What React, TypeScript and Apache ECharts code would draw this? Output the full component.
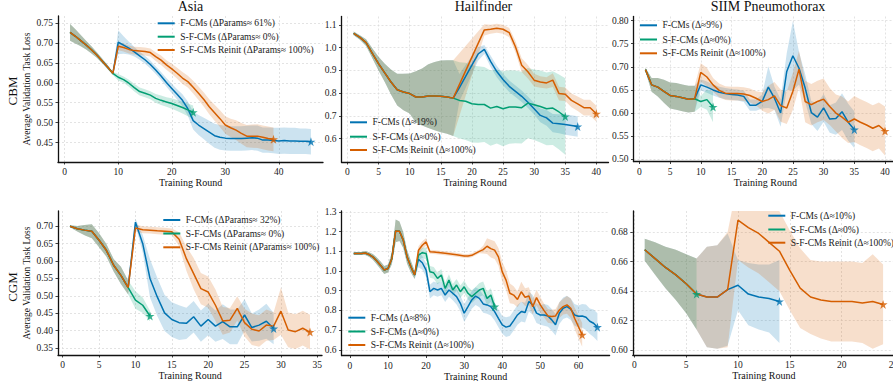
import React, { useEffect, useRef } from "react";
import * as echarts from "echarts";

// ---------------- Asia / CBM ----------------
const asiaCbmSharedRounds = [1, 2, 3, 4, 5, 6, 7, 8, 9];
const asiaCbmSharedLoss = [0.727, 0.717, 0.706, 0.695, 0.683, 0.67, 0.655, 0.64, 0.624];
const asiaCbmSharedStd = [0.021, 0.018, 0.014, 0.011, 0.009, 0.007, 0.006, 0.005, 0.004];
const asiaCbmFRounds = [10, 11, 12, 13, 14, 15, 16, 17, 18, 19, 20, 21, 22, 23, 24, 25, 26, 27, 28, 29, 30, 31, 32, 33, 34, 35, 36, 37, 38, 39, 40, 41, 42, 43, 44, 45, 46];
const asiaCbmFLoss = [0.702, 0.695, 0.687, 0.678, 0.668, 0.658, 0.646, 0.632, 0.617, 0.601, 0.586, 0.571, 0.556, 0.535, 0.505, 0.494, 0.485, 0.476, 0.467, 0.463, 0.461, 0.46, 0.46, 0.46, 0.461, 0.462, 0.461, 0.456, 0.456, 0.455, 0.454, 0.455, 0.454, 0.454, 0.453, 0.453, 0.452];
const asiaCbmFStd = [0.03, 0.022, 0.016, 0.012, 0.01, 0.01, 0.01, 0.01, 0.01, 0.011, 0.012, 0.013, 0.015, 0.018, 0.022, 0.025, 0.027, 0.029, 0.03, 0.031, 0.031, 0.031, 0.031, 0.031, 0.031, 0.031, 0.032, 0.032, 0.032, 0.032, 0.033, 0.033, 0.033, 0.033, 0.032, 0.032, 0.032];
const asiaCbmSRounds = [10, 11, 12, 13, 14, 15, 16, 17, 18, 19, 20, 21, 22, 23, 24];
const asiaCbmSLoss = [0.614, 0.608, 0.599, 0.588, 0.578, 0.574, 0.569, 0.561, 0.556, 0.552, 0.548, 0.543, 0.538, 0.532, 0.526];
const asiaCbmSStd = [0.008, 0.008, 0.009, 0.01, 0.01, 0.01, 0.01, 0.011, 0.012, 0.012, 0.013, 0.014, 0.015, 0.016, 0.017];
const asiaCbmRRounds = [10, 11, 12, 13, 14, 15, 16, 17, 18, 19, 20, 21, 22, 23, 24, 25, 26, 27, 28, 29, 30, 31, 32, 33, 34, 35, 36, 37, 38, 39];
const asiaCbmRLoss = [0.692, 0.689, 0.684, 0.681, 0.68, 0.679, 0.676, 0.666, 0.657, 0.645, 0.635, 0.624, 0.612, 0.603, 0.589, 0.574, 0.558, 0.54, 0.525, 0.51, 0.494, 0.487, 0.481, 0.473, 0.466, 0.466, 0.466, 0.463, 0.46, 0.458];
const asiaCbmRStd = [0.01, 0.01, 0.01, 0.01, 0.01, 0.01, 0.01, 0.011, 0.012, 0.012, 0.013, 0.014, 0.015, 0.015, 0.016, 0.017, 0.018, 0.019, 0.02, 0.021, 0.022, 0.023, 0.025, 0.026, 0.028, 0.029, 0.03, 0.03, 0.03, 0.03];

// ---------------- Hailfinder / CBM ----------------
const hfCbmSharedRounds = [1, 2, 3, 4, 5, 6, 7, 8, 9, 10, 11, 12, 13, 14, 15, 16, 17];
const hfCbmSharedLoss = [1.063, 1.045, 1.022, 0.975, 0.93, 0.889, 0.849, 0.815, 0.805, 0.798, 0.783, 0.783, 0.787, 0.787, 0.786, 0.783, 0.778];
const hfCbmSharedStd = [0.008, 0.01, 0.015, 0.022, 0.03, 0.04, 0.055, 0.07, 0.08, 0.088, 0.113, 0.125, 0.14, 0.15, 0.158, 0.162, 0.167];
const hfCbmFRounds = [18, 19, 20, 21, 22, 23, 24, 25, 26, 27, 28, 29, 30, 31, 32, 33, 34, 35, 36, 37];
const hfCbmFLoss = [0.824, 0.874, 0.923, 0.972, 0.992, 0.94, 0.895, 0.86, 0.83, 0.808, 0.786, 0.76, 0.731, 0.702, 0.691, 0.668, 0.665, 0.662, 0.658, 0.653];
const hfCbmFStd = [0.06, 0.05, 0.04, 0.03, 0.02, 0.025, 0.025, 0.025, 0.025, 0.025, 0.025, 0.025, 0.025, 0.03, 0.035, 0.04, 0.042, 0.045, 0.045, 0.045];
const hfCbmSRounds = [18, 19, 20, 21, 22, 23, 24, 25, 26, 27, 28, 29, 30, 31, 32, 33, 34, 35];
const hfCbmSLoss = [0.768, 0.764, 0.753, 0.75, 0.75, 0.734, 0.741, 0.731, 0.739, 0.739, 0.736, 0.756, 0.749, 0.741, 0.731, 0.734, 0.717, 0.697];
const hfCbmSStd = [0.168, 0.17, 0.17, 0.168, 0.165, 0.165, 0.163, 0.165, 0.162, 0.16, 0.158, 0.155, 0.155, 0.158, 0.16, 0.162, 0.165, 0.168];
const hfCbmRRounds = [22, 23, 24, 25, 26, 27, 28, 29, 30, 31, 32, 33, 34, 35, 36, 37, 38, 39, 40];
const hfCbmRLoss = [1.078, 1.081, 1.085, 1.081, 1.066, 1.004, 0.923, 0.894, 0.857, 0.849, 0.845, 0.857, 0.798, 0.795, 0.768, 0.753, 0.736, 0.736, 0.709];
const hfCbmRStd = [0.025, 0.02, 0.02, 0.02, 0.02, 0.025, 0.03, 0.03, 0.028, 0.025, 0.025, 0.03, 0.03, 0.03, 0.03, 0.032, 0.035, 0.035, 0.035];

// ---------------- SIIM Pneumothorax / CBM ----------------
const siimCbmSharedRounds = [1, 2, 3, 4, 5, 6, 7, 8, 9];
const siimCbmSharedLoss = [0.694, 0.661, 0.656, 0.647, 0.638, 0.636, 0.633, 0.63, 0.631];
const siimCbmSharedStd = [0.004, 0.015, 0.02, 0.025, 0.028, 0.029, 0.029, 0.029, 0.028];
const siimCbmFRounds = [10, 11, 12, 13, 14, 15, 16, 17, 18, 19, 20, 21, 22, 23, 24, 25, 26, 27, 28, 29, 30, 31, 32, 33, 34, 35];
const siimCbmFLoss = [0.661, 0.656, 0.65, 0.645, 0.642, 0.64, 0.639, 0.636, 0.617, 0.617, 0.625, 0.656, 0.632, 0.6, 0.69, 0.724, 0.697, 0.654, 0.601, 0.591, 0.611, 0.587, 0.588, 0.603, 0.58, 0.564];
const siimCbmFStd = [0.012, 0.012, 0.012, 0.012, 0.012, 0.012, 0.012, 0.012, 0.012, 0.012, 0.015, 0.045, 0.025, 0.03, 0.04, 0.075, 0.035, 0.03, 0.025, 0.03, 0.03, 0.03, 0.035, 0.04, 0.04, 0.04];
const siimCbmSRounds = [10, 11, 12];
const siimCbmSLoss = [0.625, 0.629, 0.613];
const siimCbmSStd = [0.012, 0.022, 0.033];
const siimCbmRRounds = [10, 11, 12, 13, 14, 15, 16, 17, 18, 19, 20, 21, 22, 23, 24, 25, 26, 27, 28, 29, 30, 31, 32, 33, 34, 35, 36, 37, 38, 39, 40];
const siimCbmRLoss = [0.688, 0.678, 0.661, 0.649, 0.643, 0.642, 0.642, 0.641, 0.638, 0.632, 0.625, 0.629, 0.637, 0.616, 0.611, 0.647, 0.695, 0.625, 0.618, 0.625, 0.63, 0.614, 0.6, 0.591, 0.58, 0.587, 0.58, 0.574, 0.567, 0.573, 0.561];
const siimCbmRStd = [0.02, 0.02, 0.015, 0.015, 0.015, 0.015, 0.015, 0.015, 0.015, 0.015, 0.02, 0.03, 0.03, 0.035, 0.035, 0.04, 0.04, 0.045, 0.045, 0.045, 0.045, 0.04, 0.04, 0.045, 0.045, 0.05, 0.05, 0.05, 0.05, 0.05, 0.053];

// ---------------- Asia / CGM ----------------
const asiaCgmSharedRounds = [1, 2, 3, 4, 5, 6, 7, 8, 9];
const asiaCgmSharedLoss = [0.7, 0.693, 0.689, 0.686, 0.66, 0.631, 0.588, 0.559, 0.524];
const asiaCgmSharedStd = [0.003, 0.008, 0.015, 0.02, 0.02, 0.018, 0.018, 0.025, 0.02];
const asiaCgmFRounds = [10, 11, 12, 13, 14, 15, 16, 17, 18, 19, 20, 21, 22, 23, 24, 25, 26, 27, 28, 29];
const asiaCgmFLoss = [0.712, 0.65, 0.55, 0.497, 0.451, 0.432, 0.423, 0.421, 0.44, 0.413, 0.432, 0.413, 0.426, 0.411, 0.411, 0.445, 0.409, 0.416, 0.427, 0.406];
const asiaCgmFStd = [0.01, 0.025, 0.055, 0.055, 0.052, 0.05, 0.05, 0.045, 0.045, 0.045, 0.045, 0.045, 0.05, 0.05, 0.05, 0.045, 0.04, 0.045, 0.05, 0.045];
const asiaCgmSRounds = [10, 11, 12];
const asiaCgmSLoss = [0.488, 0.473, 0.442];
const asiaCgmSStd = [0.025, 0.022, 0.015];
const asiaCgmRRounds = [10, 11, 12, 13, 14, 15, 16, 17, 18, 19, 20, 21, 22, 23, 24, 25, 26, 27, 28, 29, 30, 31, 32, 33, 34];
const asiaCgmRLoss = [0.695, 0.69, 0.689, 0.687, 0.686, 0.684, 0.663, 0.607, 0.564, 0.521, 0.511, 0.473, 0.428, 0.43, 0.464, 0.423, 0.404, 0.399, 0.416, 0.413, 0.456, 0.402, 0.397, 0.407, 0.396];
const asiaCgmRStd = [0.01, 0.01, 0.01, 0.01, 0.01, 0.01, 0.02, 0.035, 0.045, 0.045, 0.045, 0.045, 0.04, 0.035, 0.035, 0.04, 0.045, 0.045, 0.045, 0.04, 0.068, 0.05, 0.05, 0.05, 0.05];

// ---------------- Hailfinder / CGM ----------------
const hfCgmSharedRounds = [1, 2, 3, 4, 5, 6, 7, 8, 9, 10, 11, 12, 13, 14, 15, 16, 17];
const hfCgmSharedLoss = [1.089, 1.089, 1.089, 1.092, 1.084, 1.072, 1.052, 1.03, 1.005, 1.013, 1.064, 1.204, 1.202, 1.157, 1.072, 1.022, 0.98];
const hfCgmSharedStd = [0.008, 0.008, 0.008, 0.01, 0.012, 0.015, 0.018, 0.02, 0.02, 0.02, 0.03, 0.058, 0.05, 0.04, 0.035, 0.03, 0.02];
const hfCgmFRounds = [18, 19, 20, 21, 22, 23, 24, 25, 26, 27, 28, 29, 30, 31, 32, 33, 34, 35, 36, 37, 38, 39, 40, 41, 42, 43, 44, 45, 46, 47, 48, 49, 50, 51, 52, 53, 54, 55, 56, 57, 58, 59, 60, 61, 62, 63, 64, 65];
const hfCgmFLoss = [1.059, 1.042, 1.005, 0.895, 0.912, 0.904, 0.912, 0.878, 0.904, 0.887, 0.87, 0.836, 0.786, 0.819, 0.853, 0.873, 0.861, 0.833, 0.828, 0.819, 0.794, 0.76, 0.727, 0.715, 0.721, 0.748, 0.777, 0.794, 0.789, 0.845, 0.828, 0.786, 0.777, 0.777, 0.772, 0.752, 0.727, 0.786, 0.811, 0.819, 0.806, 0.777, 0.77, 0.772, 0.765, 0.745, 0.735, 0.715];
const hfCgmFStd = [0.04, 0.035, 0.035, 0.035, 0.035, 0.035, 0.035, 0.035, 0.035, 0.035, 0.04, 0.04, 0.045, 0.045, 0.045, 0.045, 0.045, 0.045, 0.045, 0.045, 0.045, 0.045, 0.045, 0.05, 0.05, 0.05, 0.05, 0.05, 0.05, 0.05, 0.05, 0.05, 0.05, 0.055, 0.055, 0.055, 0.055, 0.055, 0.055, 0.055, 0.055, 0.055, 0.055, 0.06, 0.065, 0.065, 0.07, 0.07];
const hfCgmSRounds = [18, 19, 20, 21, 22, 23, 24, 25, 26, 27, 28, 29, 30, 31, 32, 33, 34, 35, 36, 37, 38];
const hfCgmSLoss = [1.081, 1.093, 1.089, 0.996, 0.991, 0.963, 0.98, 0.912, 0.954, 0.904, 0.929, 0.895, 0.92, 0.887, 0.87, 0.887, 0.904, 0.912, 0.861, 0.878, 0.819];
const hfCgmSStd = [0.025, 0.025, 0.03, 0.03, 0.03, 0.03, 0.03, 0.03, 0.03, 0.03, 0.03, 0.032, 0.032, 0.032, 0.032, 0.032, 0.035, 0.035, 0.035, 0.035, 0.035];
const hfCgmRRounds = [18, 19, 20, 21, 22, 25, 28, 30, 31, 32, 33, 34, 35, 36, 37, 38, 39, 40, 41, 42, 43, 44, 45, 46, 47, 48, 49, 50, 51, 52, 53, 54, 55, 56, 57, 58, 59, 60, 61];
const hfCgmRLoss = [1.106, 1.131, 1.148, 1.098, 1.097, 1.09, 1.083, 1.077, 1.076, 1.08, 1.09, 1.1, 1.109, 1.126, 1.114, 1.106, 1.072, 0.996, 0.954, 0.887, 0.878, 0.856, 0.895, 0.867, 0.873, 0.819, 0.865, 0.828, 0.799, 0.772, 0.769, 0.772, 0.802, 0.819, 0.828, 0.811, 0.76, 0.718, 0.676];
const hfCgmRStd = [0.02, 0.02, 0.02, 0.01, 0.01, 0.01, 0.01, 0.01, 0.01, 0.01, 0.01, 0.01, 0.02, 0.04, 0.045, 0.045, 0.045, 0.05, 0.05, 0.05, 0.045, 0.04, 0.05, 0.045, 0.045, 0.04, 0.04, 0.04, 0.035, 0.035, 0.035, 0.035, 0.04, 0.04, 0.045, 0.05, 0.055, 0.06, 0.06];

// ---------------- SIIM Pneumothorax / CGM ----------------
const siimCgmSharedRounds = [1, 2, 3, 4, 5, 6];
const siimCgmSharedLoss = [0.668, 0.662, 0.656, 0.651, 0.645, 0.638];
const siimCgmSharedStd = [0.0075, 0.011, 0.014, 0.017, 0.02, 0.024];
const siimCgmFRounds = [7, 8, 9, 10, 11, 12, 13, 14];
const siimCgmFLoss = [0.636, 0.636, 0.641, 0.644, 0.638, 0.636, 0.635, 0.633];
const siimCgmFStd = [0.034, 0.035, 0.038, 0.017, 0.021, 0.022, 0.023, 0.028];
const siimCgmSRounds: number[] = [];
const siimCgmSLoss: number[] = [];
const siimCgmSStd: number[] = [];
const siimCgmRRounds = [7, 8, 9, 10, 11, 12, 13, 14, 15, 16, 17, 18, 19, 20, 21, 22, 23, 24];
const siimCgmRLoss = [0.636, 0.636, 0.641, 0.688, 0.683, 0.679, 0.673, 0.667, 0.654, 0.642, 0.636, 0.634, 0.633, 0.633, 0.633, 0.632, 0.633, 0.631];
const siimCgmRStd = [0.034, 0.035, 0.039, 0.027, 0.027, 0.027, 0.027, 0.027, 0.027, 0.027, 0.025, 0.026, 0.027, 0.027, 0.027, 0.027, 0.032, 0.027];

// ---------------- tick labels & texts ----------------
const asiaCbmXTicks = [0, 10, 20, 30, 40];
const asiaCbmYTicks = [0.45, 0.5, 0.55, 0.6, 0.65, 0.7, 0.75];
const hfCbmXTicks = [0, 5, 10, 15, 20, 25, 30, 35, 40];
const hfCbmYTicks = [0.6, 0.7, 0.8, 0.9, 1.0, 1.1];
const siimCbmXTicks = [0, 5, 10, 15, 20, 25, 30, 35, 40];
const siimCbmYTicks = [0.5, 0.55, 0.6, 0.65, 0.7, 0.75, 0.8];
const asiaCgmXTicks = [0, 5, 10, 15, 20, 25, 30, 35];
const asiaCgmYTicks = [0.35, 0.4, 0.45, 0.5, 0.55, 0.6, 0.65, 0.7];
const hfCgmXTicks = [0, 10, 20, 30, 40, 50, 60];
const hfCgmYTicks = [0.6, 0.7, 0.8, 0.9, 1.0, 1.1, 1.2, 1.3];
const siimCgmXTicks = [0, 5, 10, 15, 20, 25];
const siimCgmYTicks = [0.6, 0.62, 0.64, 0.66, 0.68];

const datasetTitles = ["Asia", "Hailfinder", "SIIM Pneumothorax"];
const rowLabels = ["CBM", "CGM"];
const asiaCbmLegend = ["F-CMs (ΔParams≈ 61%)", "S-F-CMs (ΔParams≈ 0%)", "S-F-CMs Reinit (ΔParams≈ 100%)"];
const hfCbmLegend = ["F-CMs (Δ≈19%)", "S-F-CMs (Δ≈0%)", "S-F-CMs Reinit (Δ≈100%)"];
const siimCbmLegend = ["F-CMs (Δ≈9%)", "S-F-CMs (Δ≈0%)", "S-F-CMs Reinit (Δ≈100%)"];
const asiaCgmLegend = ["F-CMs (ΔParams≈ 32%)", "S-F-CMs (ΔParams≈ 0%)", "S-F-CMs Reinit (ΔParams≈ 100%)"];
const hfCgmLegend = ["F-CMs (Δ≈8%)", "S-F-CMs (Δ≈0%)", "S-F-CMs Reinit (Δ≈100%)"];
const siimCgmLegend = ["F-CMs (Δ≈10%)", "S-F-CMs (Δ≈0%)", "S-F-CMs Reinit (Δ≈100%)"];

// ---------------- styling ----------------
const FONT = "'Liberation Serif', 'Times New Roman', serif";
const COLORS = ["#0173B2", "#029E73", "#D55E00"];
const BANDS = ["rgba(1,115,178,0.2)", "rgba(2,158,115,0.2)", "rgba(213,94,0,0.2)"];
const STAR = "path://M50,0 L61.8,36.2 L100,36.2 L69.1,58.8 L80.9,95 L50,72.6 L19.1,95 L30.9,58.8 L0,36.2 L38.2,36.2 Z";

type Run = { rounds: number[]; loss: number[]; std: number[] };
const run = (rounds: number[], loss: number[], std: number[]): Run => ({ rounds, loss, std });
const join = (a: Run, b: Run): Run => ({
  rounds: [...a.rounds, ...b.rounds],
  loss: [...a.loss, ...b.loss],
  std: [...a.std, ...b.std],
});

const panels = [
  {
    grid: { left: 58, top: 16, width: 265, height: 146 },
    x: [-1.25, 48.25], y: [0.401, 0.768], xt: asiaCbmXTicks, yt: asiaCbmYTicks, yd: 2, yName: true,
    shared: run(asiaCbmSharedRounds, asiaCbmSharedLoss, asiaCbmSharedStd),
    parts: [run(asiaCbmFRounds, asiaCbmFLoss, asiaCbmFStd), run(asiaCbmSRounds, asiaCbmSLoss, asiaCbmSStd), run(asiaCbmRRounds, asiaCbmRLoss, asiaCbmRStd)],
    legend: asiaCbmLegend, lx: 157.7, rows: [23.3, 36.7, 50],
  },
  {
    grid: { left: 341.5, top: 16.5, width: 267, height: 145.5 },
    x: [-0.95, 41.95], y: [0.497, 1.137], xt: hfCbmXTicks, yt: hfCbmYTicks, yd: 1, yName: false,
    shared: run(hfCbmSharedRounds, hfCbmSharedLoss, hfCbmSharedStd),
    parts: [run(hfCbmFRounds, hfCbmFLoss, hfCbmFStd), run(hfCbmSRounds, hfCbmSLoss, hfCbmSStd), run(hfCbmRRounds, hfCbmRLoss, hfCbmRStd)],
    legend: hfCbmLegend, lx: 350, rows: [122.3, 136.7, 150],
  },
  {
    grid: { left: 633.5, top: 16.5, width: 263.5, height: 145 },
    x: [-0.95, 41.95], y: [0.495, 0.809], xt: siimCbmXTicks, yt: siimCbmYTicks, yd: 2, yName: false,
    shared: run(siimCbmSharedRounds, siimCbmSharedLoss, siimCbmSharedStd),
    parts: [run(siimCbmFRounds, siimCbmFLoss, siimCbmFStd), run(siimCbmSRounds, siimCbmSLoss, siimCbmSStd), run(siimCbmRRounds, siimCbmRLoss, siimCbmRStd)],
    legend: siimCbmLegend, lx: 640, rows: [25.3, 39.5, 53.3],
  },
  {
    grid: { left: 58, top: 211, width: 264, height: 144 },
    x: [-0.65, 35.65], y: [0.33, 0.744], xt: asiaCgmXTicks, yt: asiaCgmYTicks, yd: 2, yName: true,
    shared: run(asiaCgmSharedRounds, asiaCgmSharedLoss, asiaCgmSharedStd),
    parts: [run(asiaCgmFRounds, asiaCgmFLoss, asiaCgmFStd), run(asiaCgmSRounds, asiaCgmSLoss, asiaCgmSStd), run(asiaCgmRRounds, asiaCgmRLoss, asiaCgmRStd)],
    legend: asiaCgmLegend, lx: 163.3, rows: [220, 233.5, 247.3],
  },
  {
    grid: { left: 341.6, top: 211, width: 268, height: 144.5 },
    x: [-2.2, 68.2], y: [0.571, 1.305], xt: hfCgmXTicks, yt: hfCgmYTicks, yd: 1, yName: false,
    shared: run(hfCgmSharedRounds, hfCgmSharedLoss, hfCgmSharedStd),
    parts: [run(hfCgmFRounds, hfCgmFLoss, hfCgmFStd), run(hfCgmSRounds, hfCgmSLoss, hfCgmSStd), run(hfCgmRRounds, hfCgmRLoss, hfCgmRStd)],
    legend: hfCgmLegend, lx: 348.3, rows: [317.7, 331.5, 345],
  },
  {
    grid: { left: 632.8, top: 211, width: 262.2, height: 144 },
    x: [-0.15, 25.15], y: [0.5968, 0.6942], xt: siimCgmXTicks, yt: siimCgmYTicks, yd: 2, yName: false,
    shared: run(siimCgmSharedRounds, siimCgmSharedLoss, siimCgmSharedStd),
    parts: [run(siimCgmFRounds, siimCgmFLoss, siimCgmFStd), run(siimCgmSRounds, siimCgmSLoss, siimCgmSStd), run(siimCgmRRounds, siimCgmRLoss, siimCgmRStd)],
    legend: siimCgmLegend, lx: 768.3, rows: [215.7, 229.5, 242.7],
  },
];

const titleCenters = [190.5, 483.5, 768];
const rowLabelCenters = [91, 287];

function buildOption() {
  const grids: any[] = [];
  const xAxes: any[] = [];
  const yAxes: any[] = [];
  const series: any[] = [];
  const graphics: any[] = [];

  panels.forEach((p, gi) => {
    grids.push({ ...p.grid, outerBoundsMode: "none", containLabel: false });
    xAxes.push({
      gridIndex: gi, type: "value", min: p.x[0], max: p.x[1],
      axisLine: { show: true, onZero: false, lineStyle: { color: "#111", width: 1.3 } },
      axisTick: { show: true, length: 2.5, customValues: p.xt, lineStyle: { color: "#111", width: 0.8 } },
      axisLabel: { customValues: p.xt, margin: 5, fontFamily: FONT, fontSize: 9.5, color: "#222", formatter: (v: number) => String(Math.round(v)) },
      splitLine: { show: true, lineStyle: { color: "#dcdcdc", type: [2, 2], width: 0.8 } },
      name: "Training Round", nameLocation: "middle", nameGap: 12,
      nameTextStyle: { fontFamily: FONT, fontSize: 10, color: "#111" },
    });
    yAxes.push({
      gridIndex: gi, type: "value", min: p.y[0], max: p.y[1],
      axisLine: { show: true, onZero: false, lineStyle: { color: "#111", width: 1.3 } },
      axisTick: { show: true, length: 2.5, customValues: p.yt, lineStyle: { color: "#111", width: 0.8 } },
      axisLabel: { customValues: p.yt, margin: 5, fontFamily: FONT, fontSize: 9.5, color: "#222", formatter: (v: number) => v.toFixed(p.yd) },
      splitLine: { show: true, lineStyle: { color: "#dcdcdc", type: [2, 2], width: 0.8 } },
      name: p.yName ? "Average Validation Task Loss" : "", nameLocation: "middle", nameGap: 21,
      nameTextStyle: { fontFamily: FONT, fontSize: 9.5, color: "#111" },
    });

    const full = p.parts.map((part) => join(p.shared, part));

    // bands (mean ± std)
    full.forEach((r, k) => {
      series.push({
        type: "custom", xAxisIndex: gi, yAxisIndex: gi, clip: true, silent: true, z: 1,
        data: r.rounds.map((x, i) => [x, r.loss[i]]),
        encode: { x: 0, y: 1 },
        renderItem: (params: any, api: any) => {
          if (params.dataIndexInside !== 0) return null;
          const up = r.rounds.map((x, i) => api.coord([x, r.loss[i] + r.std[i]]));
          const lo = r.rounds.map((x, i) => api.coord([x, r.loss[i] - r.std[i]])).reverse();
          return { type: "polygon", shape: { points: [...up, ...lo] }, style: { fill: BANDS[k], stroke: null } };
        },
      });
    });
    // mean lines
    full.forEach((r, k) => {
      series.push({
        type: "line", xAxisIndex: gi, yAxisIndex: gi, silent: true, z: 3,
        data: r.rounds.map((x, i) => [x, r.loss[i]]),
        symbol: "none", showSymbol: false,
        lineStyle: { color: COLORS[k], width: 1.5 }, itemStyle: { color: COLORS[k] },
      });
    });
    // end stars
    full.forEach((r, k) => {
      const n = r.rounds.length - 1;
      series.push({
        type: "scatter", xAxisIndex: gi, yAxisIndex: gi, silent: true, z: 4,
        data: [[r.rounds[n], r.loss[n]]],
        symbol: STAR, symbolSize: 9, itemStyle: { color: COLORS[k] },
      });
    });

    // legend
    p.legend.forEach((label, k) => {
      const y = p.rows[k];
      graphics.push({
        type: "line", silent: true, z: 100,
        shape: { x1: p.lx, y1: y, x2: p.lx + 17, y2: y },
        style: { stroke: COLORS[k], lineWidth: 2 },
      });
      graphics.push({
        type: "text", silent: true, z: 100, x: p.lx + 22.5, y,
        style: { text: label, fontFamily: FONT, fontSize: 9.5, fill: "#1a1a1a", align: "left", verticalAlign: "middle" },
      });
    });
  });

  datasetTitles.forEach((t, i) => {
    graphics.push({
      type: "text", silent: true, z: 100, x: titleCenters[i], y: 6.5,
      style: { text: t, fontFamily: FONT, fontSize: 14, fill: "#111", align: "center", verticalAlign: "middle" },
    });
  });
  rowLabels.forEach((t, i) => {
    graphics.push({
      type: "text", silent: true, z: 100, x: 12.5, y: rowLabelCenters[i], rotation: Math.PI / 2,
      style: { text: t, fontFamily: FONT, fontSize: 13, fill: "#111", align: "center", verticalAlign: "middle" },
    });
  });

  return {
    animation: false,
    backgroundColor: "#ffffff",
    textStyle: { fontFamily: FONT },
    grid: grids,
    xAxis: xAxes,
    yAxis: yAxes,
    series,
    graphic: { elements: graphics },
  };
}

export default function App() {
  const ref = useRef<HTMLDivElement>(null);
  useEffect(() => {
    document.body.style.margin = "0";
    if (!ref.current) return;
    const chart = echarts.init(ref.current, null, { renderer: "svg" });
    chart.setOption(buildOption() as any);
    return () => chart.dispose();
  }, []);
  return <div ref={ref} style={{ width: 893, height: 381 }} />;
}
